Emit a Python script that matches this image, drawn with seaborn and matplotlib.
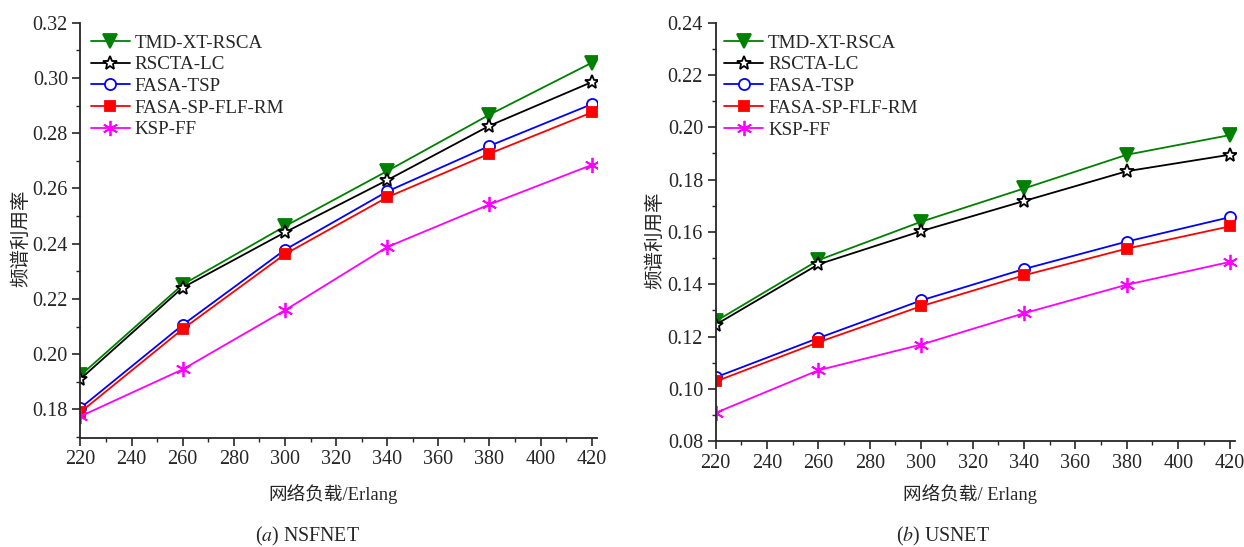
import matplotlib
matplotlib.use("Agg")
import matplotlib.pyplot as plt
from matplotlib.ticker import MultipleLocator, FormatStrFormatter
import seaborn as sns
import pandas as pd

loads = [220, 260, 300, 340, 380, 420]
names = ["TMD-XT-RSCA", "RSCTA-LC", "FASA-TSP", "FASA-SP-FLF-RM", "KSP-FF"]

# NSFNET
nsf_tmd = [0.1923, 0.2252, 0.2463, 0.2663, 0.2867, 0.3055]
nsf_rscta = [0.1910, 0.2241, 0.2441, 0.2630, 0.2827, 0.2985]
nsf_tsp = [0.1805, 0.2106, 0.2378, 0.2589, 0.2754, 0.2905]
nsf_sp = [0.1790, 0.2091, 0.2362, 0.2568, 0.2726, 0.2875]
nsf_ksp = [0.1775, 0.1945, 0.2159, 0.2388, 0.2542, 0.2685]

# USNET
us_tmd = [0.1258, 0.1492, 0.1639, 0.1766, 0.1895, 0.1970]
us_rscta = [0.1245, 0.1476, 0.1603, 0.1718, 0.1832, 0.1895]
us_tsp = [0.1044, 0.1194, 0.1338, 0.1458, 0.1563, 0.1656]
us_sp = [0.1028, 0.1178, 0.1316, 0.1434, 0.1536, 0.1621]
us_ksp = [0.0908, 0.1071, 0.1169, 0.1289, 0.1398, 0.1485]

styles = {
    "TMD-XT-RSCA": dict(color="#008000", marker="v", mfc="#008000", ms=10),
    "RSCTA-LC": dict(color="black", marker="*", mfc="white", ms=10),
    "FASA-TSP": dict(color="#0000ff", marker="o", mfc="white", ms=8),
    "FASA-SP-FLF-RM": dict(color="#ff0000", marker="s", mfc="#ff0000", ms=7),
    "KSP-FF": dict(color="#ff00ff", marker=(6, 2, 0), mfc="#ff00ff", ms=11),
}

sns.set_style("ticks")
plt.rcParams["font.family"] = ["Liberation Serif", "Noto Sans CJK SC"]
plt.rcParams["mathtext.fontset"] = "stix"
plt.rcParams["axes.linewidth"] = 1.3

W, H = 1244, 547
fig = plt.figure(figsize=(W / 100, H / 100), dpi=100)
ax1 = fig.add_axes([80.4 / W, 1 - 437.6 / H, 516.2 / W, 414.9 / H])
ax2 = fig.add_axes([715.6 / W, 1 - 441.1 / H, 519.9 / W, 418.4 / H])


def draw(ax, series, xlim, ylim, xlabel, xl_y, legend_x):
    for name, vals in zip(names, series):
        df = pd.DataFrame({"load": loads, "val": vals})
        st = styles[name]
        sns.lineplot(data=df, x="load", y="val", ax=ax, color=st["color"],
                     marker=st["marker"], markerfacecolor=st["mfc"],
                     markeredgecolor=st["color"], markersize=st["ms"],
                     markeredgewidth=1.3, linewidth=1.3, label=name)
    ax.set_xlim(*xlim)
    ax.set_ylim(*ylim)
    ax.xaxis.set_major_locator(MultipleLocator(20))
    ax.xaxis.set_minor_locator(MultipleLocator(10))
    ax.yaxis.set_major_locator(MultipleLocator(0.02))
    ax.yaxis.set_minor_locator(MultipleLocator(0.01))
    ax.yaxis.set_major_formatter(FormatStrFormatter("%.2f"))
    ax.tick_params(which="major", length=6, width=1.2, labelsize=14.5, pad=3)
    ax.tick_params(which="minor", length=3, width=1.0)
    sns.despine(ax=ax)
    ax.set_xlabel(xlabel, fontsize=13.4)
    ax.xaxis.set_label_coords(0.49, xl_y)
    ax.set_ylabel("频谱利用率", fontsize=14)
    ax.yaxis.set_label_coords(-0.098, 0.48)
    ax.legend(loc="upper left", frameon=False, fontsize=13.7, handlelength=2.05,
              labelspacing=0.23, borderaxespad=0, borderpad=0, handletextpad=0.24,
              bbox_to_anchor=(legend_x, 0.972))


draw(ax1, [nsf_tmd, nsf_rscta, nsf_tsp, nsf_sp, nsf_ksp], (220, 421.9),
     (0.1698, 0.32), "网络负载/Erlang", -0.1106, 0.0205)
draw(ax2, [us_tmd, us_rscta, us_tsp, us_sp, us_ksp], (220, 422.3),
     (0.08, 0.24), "网络负载/ Erlang", -0.1013, 0.017)

fig.text(307.7 / W, 1 - 536 / H, r"($a$) NSFNET", ha="center", va="center",
         fontsize=14.3)
fig.text(942.5 / W, 1 - 536 / H, r"($b$) USNET", ha="center", va="center",
         fontsize=14.3)

fig.savefig("out.png", dpi=100)
